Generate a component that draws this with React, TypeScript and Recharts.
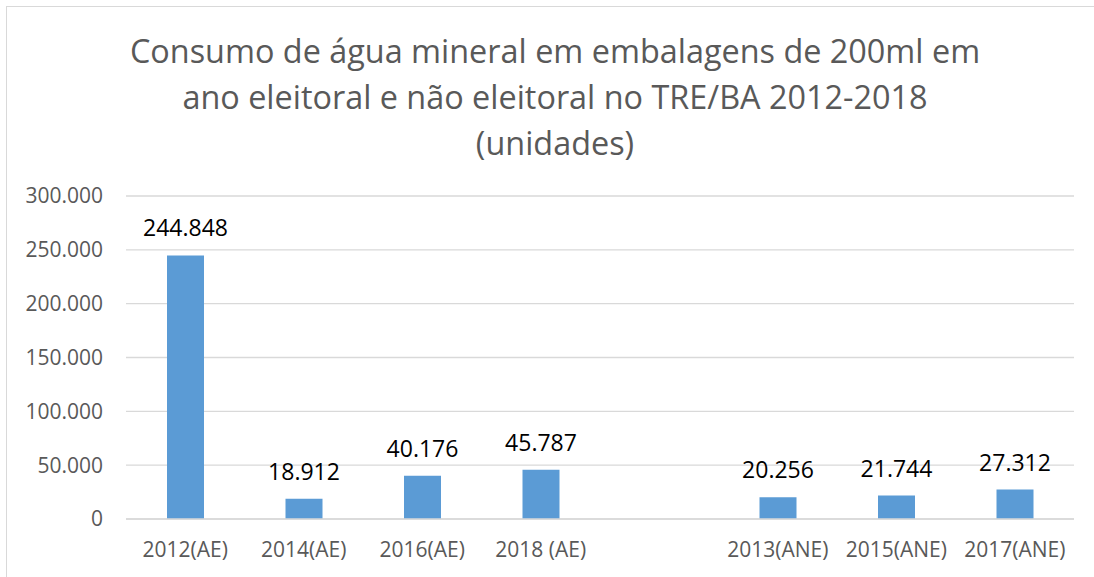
import { Bar, BarChart, CartesianGrid, LabelList, XAxis, YAxis } from 'recharts';

const categories = ['2012(AE)', '2014(AE)', '2016(AE)', '2018 (AE)', '', '2013(ANE)', '2015(ANE)', '2017(ANE)'];
const units: (number | null)[] = [244848, 18912, 40176, 45787, null, 20256, 21744, 27312];
const yTicks = [0, 50000, 100000, 150000, 200000, 250000, 300000];
const titleLines = [
  'Consumo de água mineral em embalagens de 200ml em',
  'ano eleitoral e não eleitoral no TRE/BA 2012-2018',
  '(unidades)',
];

const FONT = '"Open Sans", Calibri, sans-serif';
const BAR = '#5b9bd5';
const GRID = '#d9d9d9';
const MUTED = '#595959';

// pt-BR style thousands separator
const fmt = (v: unknown) => {
  if (v === null || v === undefined || v === '') return '';
  return String(v).replace(/\B(?=(\d{3})+(?!\d))/g, '.');
};

const data = categories.map((name, i) => ({ name, value: units[i] }));

export default function App() {
  return (
    <div
      style={{
        position: 'absolute',
        left: 0,
        top: 0,
        width: 1094,
        height: 577,
        overflow: 'hidden',
        background: '#fff',
        fontFamily: FONT,
      }}
    >
      <div
        style={{
          position: 'absolute',
          left: 6,
          top: 6,
          width: 1200,
          height: 700,
          border: `1px solid ${GRID}`,
        }}
      />
      <div
        style={{
          position: 'absolute',
          left: 0,
          top: 27,
          width: 1110,
          textAlign: 'center',
          fontSize: 32.4,
          lineHeight: '46px',
          color: MUTED,
        }}
      >
        {titleLines.map((t) => (
          <div key={t}>{t}</div>
        ))}
      </div>
      <div style={{ position: 'absolute', left: 0, top: 0 }}>
        <BarChart
          width={1094}
          height={577}
          data={data}
          margin={{ top: 196, right: 20, left: 0, bottom: 0 }}
          barSize={37}
        >
          <CartesianGrid vertical={false} stroke={GRID} strokeWidth={1.3} />
          <XAxis
            dataKey="name"
            height={58}
            tickLine={false}
            axisLine={{ stroke: GRID, strokeWidth: 1.3 }}
            tickSize={0}
            tickMargin={23}
            interval={0}
            tick={{ fill: MUTED, fontSize: 21, fontFamily: FONT }}
          />
          <YAxis
            width={126}
            domain={[0, 300000]}
            ticks={yTicks}
            tickFormatter={fmt}
            axisLine={false}
            tickLine={false}
            tickSize={0}
            tickMargin={23}
            tick={{ fill: MUTED, fontSize: 21, fontFamily: FONT }}
          />
          <Bar dataKey="value" fill={BAR} isAnimationActive={false}>
            <LabelList
              dataKey="value"
              position="top"
              offset={19}
              formatter={fmt}
              style={{ fill: '#000', fontSize: 23, fontFamily: FONT }}
            />
          </Bar>
        </BarChart>
      </div>
    </div>
  );
}
